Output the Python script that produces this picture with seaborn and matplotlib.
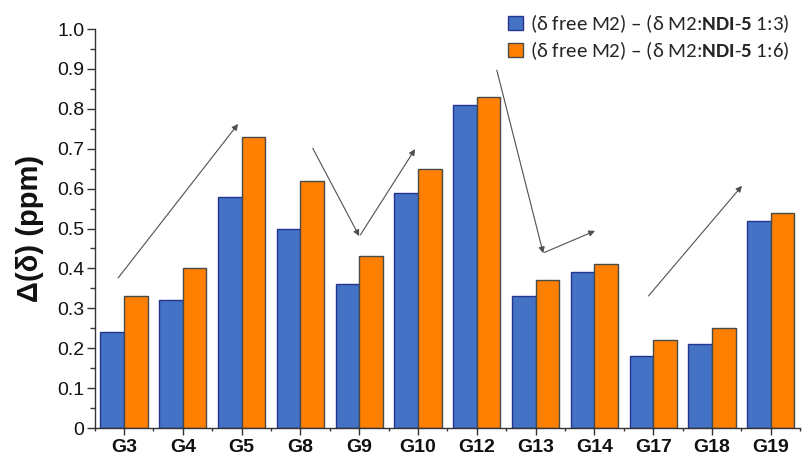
import matplotlib
matplotlib.use("Agg")
import matplotlib.pyplot as plt
from matplotlib import font_manager
from matplotlib.ticker import MultipleLocator, FixedLocator
import numpy as np
import pandas as pd
import seaborn as sns

groups = ["G3", "G4", "G5", "G8", "G9", "G10", "G12", "G13", "G14", "G17", "G18", "G19"]
ratio_1_3 = [0.24, 0.32, 0.58, 0.50, 0.36, 0.59, 0.81, 0.33, 0.39, 0.18, 0.21, 0.52]
ratio_1_6 = [0.33, 0.40, 0.73, 0.62, 0.43, 0.65, 0.83, 0.37, 0.41, 0.22, 0.25, 0.54]

label_1_3 = r"(δ free M2) – (δ M2:$\mathbf{NDI\text{-}5}$ 1:3)"
label_1_6 = r"(δ free M2) – (δ M2:$\mathbf{NDI\text{-}5}$ 1:6)"

# trend arrows: (x_start, y_start, x_end, y_end) in category / ppm units
trend_arrows = [
    (-0.10, 0.376, 1.94, 0.762),
    (3.21, 0.701, 4.00, 0.481),
    (4.02, 0.484, 4.95, 0.699),
    (6.34, 0.897, 7.13, 0.438),
    (7.15, 0.440, 8.01, 0.494),
    (8.92, 0.331, 10.51, 0.607),
]

fill_colors = ["#4472C4", "#FF8000"]
edge_colors = ["#25348C", "#4A4A4A"]

sns.set_theme(style="ticks")

available = {f.name for f in font_manager.fontManager.ttflist}
def pick(*names):
    for n in names:
        if n in available:
            return n
    return "DejaVu Sans"

tick_font = pick("Liberation Sans", "Arial")
legend_font = pick("Carlito", "Lato", "Open Sans")

plt.rcParams["font.family"] = [tick_font, "DejaVu Sans"]
plt.rcParams["mathtext.fontset"] = "custom"
plt.rcParams["mathtext.rm"] = legend_font
plt.rcParams["mathtext.bf"] = legend_font + ":bold"
plt.rcParams["mathtext.it"] = legend_font + ":italic"

df = pd.DataFrame({
    "group": groups * 2,
    "value": ratio_1_3 + ratio_1_6,
    "series": [label_1_3] * len(groups) + [label_1_6] * len(groups),
})

fig = plt.figure(figsize=(8.02, 4.61), dpi=100)
ax = fig.add_axes([94.6 / 802, 1 - 428 / 461, 705.6 / 802, 399 / 461])

sns.barplot(data=df, x="group", y="value", hue="series", order=groups,
            hue_order=[label_1_3, label_1_6], palette=fill_colors,
            width=0.8, gap=0, saturation=1, ax=ax, errorbar=None)

for cont, ec in zip(ax.containers, edge_colors):
    for bar in cont:
        bar.set_edgecolor(ec)
        bar.set_linewidth(1.0)

ax.set_xlim(-0.5, len(groups) - 0.5)
ax.set_ylim(0, 1.0)
yt = np.round(np.arange(0, 1.01, 0.1), 2)
ax.yaxis.set_major_locator(FixedLocator(yt))
ax.set_yticklabels(["0"] + [f"{v:.1f}" for v in yt[1:]])
ax.yaxis.set_minor_locator(MultipleLocator(0.05))
ax.xaxis.set_minor_locator(FixedLocator(np.arange(-0.5, len(groups), 1.0)))

ax.tick_params(axis="y", which="major", length=6, width=1, color="#333333",
               labelsize=14, pad=1.5, labelcolor="#111111")
ax.tick_params(axis="y", which="minor", length=3.5, width=1, color="#333333")
ax.tick_params(axis="x", which="major", length=5, width=1, color="#333333",
               labelsize=14, pad=3, labelcolor="#111111")
ax.tick_params(axis="x", which="minor", length=2.5, width=1, color="#333333")
for lab in ax.get_xticklabels():
    lab.set_fontweight("bold")

sns.despine(ax=ax)
for s in ("left", "bottom"):
    ax.spines[s].set_color("#333333")
    ax.spines[s].set_linewidth(1.0)

ax.set_xlabel("")
ax.set_ylabel("Δ(δ) (ppm)", fontsize=21, fontweight="bold", labelpad=9,
              color="#111111")

for x0, y0, x1, y1 in trend_arrows:
    ax.annotate("", xy=(x1, y1), xytext=(x0, y0),
                arrowprops=dict(arrowstyle="-|>", color="#505050", lw=0.8,
                                mutation_scale=9, shrinkA=0, shrinkB=0))

leg = ax.legend(loc="upper right", bbox_to_anchor=(1.0, 1.0),
                bbox_transform=fig.transFigure, frameon=False,
                prop={"family": legend_font, "size": 15},
                handlelength=0.7, handleheight=0.7, handletextpad=0.35,
                labelspacing=0.2, borderaxespad=0.2)
for h, ec in zip(leg.legend_handles, edge_colors):
    h.set_edgecolor(ec)
    h.set_linewidth(1.0)

fig.savefig("out.png", dpi=100)
